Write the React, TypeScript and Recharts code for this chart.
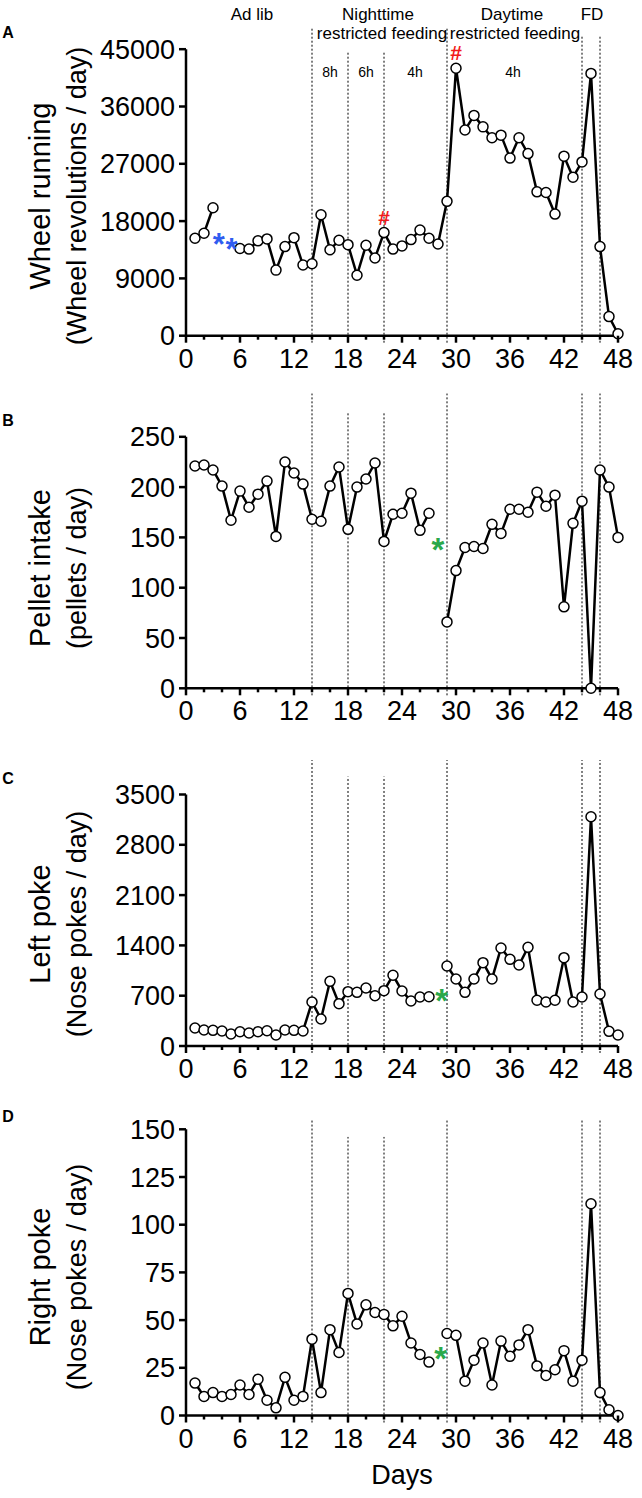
import React from "react";
import { LineChart, Line, XAxis, YAxis, ReferenceLine, ReferenceDot } from "recharts";

const FONT = '"Liberation Sans", Arial, sans-serif';

// x categories (day of experiment)
const days = [
  1, 2, 3, 4, 5, 6, 7, 8, 9, 10, 11, 12, 13, 14, 15, 16, 17, 18, 19, 20, 21, 22, 23, 24,
  25, 26, 27, 28, 29, 30, 31, 32, 33, 34, 35, 36, 37, 38, 39, 40, 41, 42, 43, 44, 45, 46, 47, 48,
];

// A - wheel revolutions / day
const wheelRunning = [
  15300, 16100, 20100, null, null, 13700, 13600, 14900, 15200, 10300,
  14000, 15400, 11100, 11300, 19000, 13500, 15000, 14300, 9500, 14200,
  12200, 16200, 13600, 14100, 15100, 16600, 15300, 14400, 21100, 42000,
  32300, 34600, 32800, 31100, 31500, 27900, 31100, 28600, 22600, 22500,
  19100, 28200, 24900, 27300, 41200, 14000, 3000, 300,
];

// B - pellets / day
const pelletIntake = [
  221, 222, 217, 201, 167, 196, 180, 193, 206, 151,
  225, 214, 203, 168, 166, 201, 220, 158, 200, 208,
  224, 146, 173, 174, 194, 157, 174, null, 66, 117,
  140, 141, 139, 163, 154, 178, 178, 175, 195, 181,
  192, 81, 164, 186, 0, 217, 200, 150,
];

// C - left nose pokes / day
const leftPoke = [
  250, 223, 218, 209, 167, 199, 181, 199, 213, 153,
  223, 218, 209, 612, 376, 900, 589, 756, 747, 807,
  700, 770, 984, 766, 626, 682, 686, null, 1114, 933,
  747, 933, 1160, 933, 1364, 1206, 1127, 1373, 636, 612,
  636, 1229, 612, 682, 3190, 724, 204, 153,
];

// D - right nose pokes / day
const rightPoke = [
  17, 10, 12, 10, 11, 16, 11, 19, 8, 4,
  20, 8, 10, 40, 12, 45, 33, 64, 48, 58,
  54, 53, 47, 52, 38, 32, 28, null, 43, 42,
  18, 29, 38, 16, 39, 31, 37, 45, 26, 21,
  24, 34, 18, 29, 111, 12, 3, 0,
];

const dayTicks = [0, 2, 4, 6, 8, 10, 12, 14, 16, 18, 20, 22, 24, 26, 28, 30, 32, 34, 36, 38, 40, 42, 44, 46, 48];
const wheelTicks = [0, 9000, 18000, 27000, 36000, 45000];
const pelletTicks = [0, 50, 100, 150, 200, 250];
const leftTicks = [0, 700, 1400, 2100, 2800, 3500];
const rightTicks = [0, 25, 50, 75, 100, 125, 150];

// schedule changes (dotted lines)
const phaseDays = [14, 18, 22, 29, 44, 46];

const rows = days.map((d, i) => ({
  day: d,
  wheel: wheelRunning[i],
  pellet: pelletIntake[i],
  left: leftPoke[i],
  right: rightPoke[i],
}));

function DayTick(props: any) {
  const { x, y, payload } = props;
  const major = payload.value % 6 === 0;
  return (
    <g>
      <line x1={x} x2={x} y1={y} y2={y + (major ? 7 : 4)} stroke="#000" strokeWidth={2.5} />
      {major && (
        <text x={x} y={y + 13} dy="0.71em" textAnchor="middle" fontSize={27} fill="#000">
          {payload.value}
        </text>
      )}
    </g>
  );
}

type Mark = { x: number; y: number; text: string; color: string; size: number };

function markShape(m: Mark) {
  return (p: any) => {
    const shift = m.text === "*" ? 0.58 : 0.36;
    return (
      <text
        x={p.cx}
        y={p.cy + shift * m.size}
        textAnchor="middle"
        fontSize={m.size}
        fontWeight={700}
        fill={m.color}
      >
        {m.text}
      </text>
    );
  };
}

type PanelProps = {
  top: number;
  height: number;
  plotTop: number;
  plotBottom: number;
  dataKey: string;
  yTicks: number[];
  guideTops: number[];
  guideBottom: number;
  marks: Mark[];
};

function Panel({ top, height, plotTop, plotBottom, dataKey, yTicks, guideTops, guideBottom, marks }: PanelProps) {
  const yMax = yTicks[yTicks.length - 1];
  return (
    <div style={{ position: "absolute", left: 0, top, width: 642, height }}>
      <LineChart
        width={642}
        height={height}
        data={rows}
        margin={{ top: plotTop - top, right: 24, bottom: top + height - plotBottom - 30, left: 100 }}
      >
        <XAxis
          dataKey="day"
          type="number"
          domain={[0, 48]}
          ticks={dayTicks}
          interval={0}
          tickLine={false}
          tickSize={0}
          tickMargin={0}
          tick={<DayTick />}
          height={30}
          axisLine={{ stroke: "#000", strokeWidth: 2.5 }}
        />
        <YAxis
          width={86}
          type="number"
          domain={[0, yMax]}
          ticks={yTicks}
          interval={0}
          tickSize={7}
          tickMargin={4}
          tick={{ fontSize: 27, fill: "#000" }}
          axisLine={{ stroke: "#000", strokeWidth: 2.5 }}
          tickLine={{ stroke: "#000", strokeWidth: 2.5 }}
        />
        <Line
          dataKey={dataKey}
          stroke="#000"
          strokeWidth={2.5}
          dot={{ r: 5, fill: "#fff", stroke: "#000", strokeWidth: 1.5 }}
          isAnimationActive={false}
        />
        {phaseDays.map((d, i) => (
          <ReferenceLine
            key={d}
            segment={[
              { x: d, y: guideBottom },
              { x: d, y: guideTops[i] },
            ]}
            stroke="#000"
            strokeWidth={1}
            strokeDasharray="2 2"
            ifOverflow="visible"
          />
        ))}
        {marks.map((m, i) => (
          <ReferenceDot key={i} x={m.x} y={m.y} r={0} ifOverflow="visible" shape={markShape(m)} />
        ))}
      </LineChart>
    </div>
  );
}

function Label(props: {
  x: number;
  y: number;
  size: number;
  text: string;
  rotate?: boolean;
  bold?: boolean;
}) {
  return (
    <div
      style={{
        position: "absolute",
        left: props.x,
        top: props.y,
        transform: `translate(-50%, -50%)${props.rotate ? " rotate(-90deg)" : ""}`,
        fontSize: props.size,
        fontWeight: props.bold ? 700 : 400,
        lineHeight: 1,
        whiteSpace: "nowrap",
        color: "#000",
      }}
    >
      {props.text}
    </div>
  );
}

const BLUE = "#2f5cf0";
const RED = "#f21b1b";
const GREEN = "#2aa84a";

export default function App() {
  return (
    <div
      style={{
        position: "absolute",
        left: 0,
        top: 0,
        width: 642,
        height: 1498,
        background: "#fff",
        fontFamily: FONT,
        overflow: "hidden",
      }}
    >
      {/* phase headers */}
      <Label x={252} y={14} size={17} text="Ad lib" />
      <Label x={378} y={14} size={17} text="Nighttime" />
      <Label x={382} y={33} size={17} text="restricted feeding" />
      <Label x={512} y={14} size={17} text="Daytime" />
      <Label x={515} y={33} size={17} text="restricted feeding" />
      <Label x={592} y={14} size={17} text="FD" />
      <Label x={330} y={72} size={14} text="8h" />
      <Label x={366} y={72} size={14} text="6h" />
      <Label x={415} y={72} size={14} text="4h" />
      <Label x={513} y={72} size={14} text="4h" />

      <Panel
        top={0}
        height={380}
        plotTop={49.2}
        plotBottom={335.7}
        dataKey="wheel"
        yTicks={wheelTicks}
        guideTops={[48300, 44600, 44600, 48300, 47200, 47200]}
        guideBottom={-1100}
        marks={[
          { x: 3.65, y: 15500, text: "*", color: BLUE, size: 31 },
          { x: 5.05, y: 14700, text: "*", color: BLUE, size: 31 },
          { x: 22, y: 18500, text: "#", color: RED, size: 21 },
          { x: 30, y: 44500, text: "#", color: RED, size: 21 },
        ]}
      />
      <Panel
        top={385}
        height={345}
        plotTop={436.8}
        plotBottom={688.3}
        dataKey="pellet"
        yTicks={pelletTicks}
        guideTops={[293, 275, 275, 293, 293, 293]}
        guideBottom={-7}
        marks={[{ x: 28, y: 146, text: "*", color: GREEN, size: 33 }]}
      />
      <Panel
        top={740}
        height={345}
        plotTop={794.5}
        plotBottom={1046}
        dataKey="left"
        yTicks={leftTicks}
        guideTops={[3980, 3750, 3750, 3980, 3980, 3980]}
        guideBottom={-97}
        marks={[{ x: 28.4, y: 733, text: "*", color: GREEN, size: 33 }]}
      />
      <Panel
        top={1090}
        height={370}
        plotTop={1129.3}
        plotBottom={1415.5}
        dataKey="right"
        yTicks={rightTicks}
        guideTops={[155, 146, 146, 155, 155, 155]}
        guideBottom={-3.7}
        marks={[{ x: 28.3, y: 34, text: "*", color: GREEN, size: 33 }]}
      />

      {/* panel letters */}
      <Label x={8} y={33} size={16} bold text="A" />
      <Label x={8} y={421} size={16} bold text="B" />
      <Label x={8} y={779} size={16} bold text="C" />
      <Label x={8} y={1117} size={16} bold text="D" />

      {/* y-axis titles */}
      <Label x={40} y={196} size={29} rotate text="Wheel running" />
      <Label x={77} y={196} size={27} rotate text="(Wheel revolutions / day)" />
      <Label x={40} y={568} size={29} rotate text="Pellet intake" />
      <Label x={77} y={568} size={27} rotate text="(pellets / day)" />
      <Label x={40} y={924} size={29} rotate text="Left poke" />
      <Label x={77} y={924} size={27} rotate text="(Nose pokes / day)" />
      <Label x={40} y={1277} size={29} rotate text="Right poke" />
      <Label x={77} y={1277} size={27} rotate text="(Nose pokes / day)" />

      <Label x={402} y={1475} size={27} text="Days" />
    </div>
  );
}
